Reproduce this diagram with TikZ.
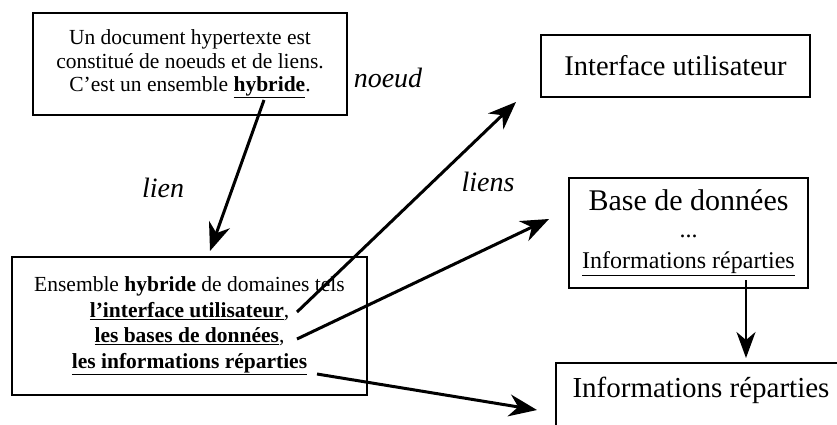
\documentclass[tikz,border=0pt]{standalone}
\usepackage{fontspec}
\setmainfont{Liberation Serif}
\usetikzlibrary{arrows.meta}
\begin{document}
\begin{tikzpicture}[x=1pt,y=-1pt,
  box/.style={draw, line width=1.8pt, inner sep=0pt, align=center},
  lbl/.style={font=\fontsize{28}{30}\selectfont\itshape, inner sep=0pt},
  link/.style={line width=3pt, -{Stealth[length=28pt,width=22pt,inset=9pt]}},
  thinlink/.style={line width=2pt, -{Stealth[length=26pt,width=19pt,inset=8pt]}}]
\useasboundingbox (0,0) rectangle (837,425);
\clip (0,0) rectangle (837,425);
\fill[white] (0,0) rectangle (837,425);

% boxes
\node[box, minimum width=314, minimum height=102, font=\fontsize{21.5}{23.5}\selectfont] (doc) at (190,64)
  {Un document hypertexte est\\constitué de noeuds et de liens.\\C'est un ensemble \underline{\textbf{hybride}}.};
\node[box, minimum width=355, minimum height=138, font=\fontsize{21.5}{25.5}\selectfont] (ens) at (189.5,326)
  {Ensemble \textbf{hybride} de domaines tels\\\underline{\textbf{l'interface utilisateur}},\\\underline{\textbf{les bases de données}},\\\underline{\textbf{les informations réparties}}};
\node[box, minimum width=269, minimum height=62, font=\fontsize{28.5}{30}\selectfont] (iface) at (675.5,66)
  {Interface utilisateur};
\node[box, minimum width=239, minimum height=110, font=\fontsize{24}{31}\selectfont] (base) at (688.5,233)
  {{\fontsize{30}{31}\selectfont Base de données}\\[-4pt]...\\\underline{Informations réparties}};
\node[box, anchor=north west, minimum width=300, minimum height=100] (infobox) at (555,362) {};
\node[inner sep=0pt, font=\fontsize{29}{30}\selectfont] (info) at (701,390) {Informations réparties};

% labels
\node[lbl] (noeud) at (388,78) {noeud};
\node[lbl] (lien) at (163,188) {lien};
\node[lbl] (liens) at (488,182) {liens};

% connector end points
\coordinate (s0) at (264,100);
\coordinate (t0) at (210,251);
\coordinate (s1) at (297,312);
\coordinate (t1) at (516,102);
\coordinate (s2) at (297,339);
\coordinate (t2) at (549,219);
\coordinate (s3) at (317,374);
\coordinate (t3) at (537,410);
\coordinate (s4) at (746,280);
\coordinate (t4) at (746,358);

\draw[link] (s0) -- (t0);
\draw[link] (s1) -- (t1);
\draw[link] (s2) -- (t2);
\draw[link] (s3) -- (t3);
\draw[thinlink] (s4) -- (t4);
\end{tikzpicture}
\end{document}
